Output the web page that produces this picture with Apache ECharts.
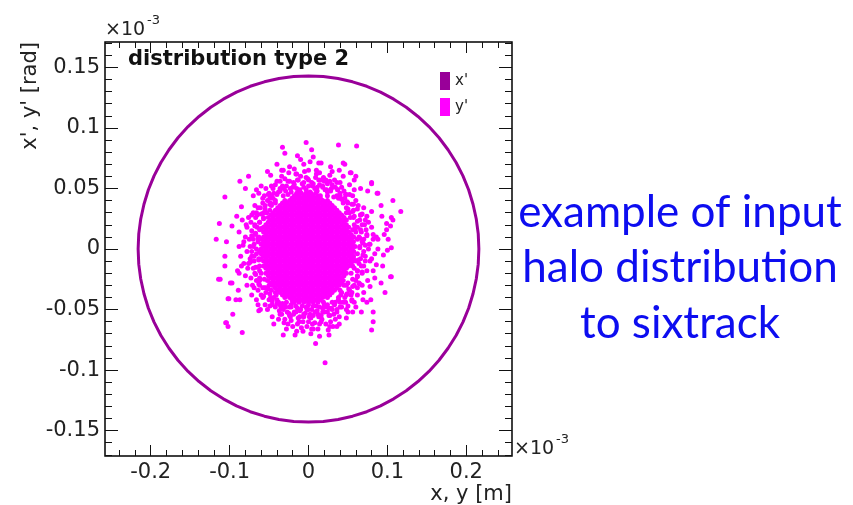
<!DOCTYPE html>
<html>
<head>
<meta charset="utf-8">
<script src="https://cdn.jsdelivr.net/npm/echarts@6/dist/echarts.min.js"></script>
<style>
    html, body { margin: 0; padding: 0; background: #fff; }
    #chart { width: 853px; height: 505px; }
</style>
</head>
<body>
<div id="chart"></div>
<script>
// all points in units of 1e-3 of the axis (axis is already x10^-3)
// x' : the halo ellipse
var xPrimeRing = [
    [216,0],[215.2,12.5],[212.7,24.8],[208.6,37],[203,48.9],[195.8,60.4],[187.1,71.5],[176.9,82],[165.5,91.9],
    [152.7,101.1],[138.8,109.5],[123.9,117.1],[108,123.8],[91.3,129.6],[73.9,134.4],[55.9,138.1],[37.5,140.8],[18.8,142.5],
    [0,143],[-18.8,142.5],[-37.5,140.8],[-55.9,138.1],[-73.9,134.4],[-91.3,129.6],[-108,123.8],[-123.9,117.1],[-138.8,109.5],
    [-152.7,101.1],[-165.5,91.9],[-176.9,82],[-187.1,71.5],[-195.8,60.4],[-203,48.9],[-208.6,37],[-212.7,24.8],[-215.2,12.5],
    [-216,0],[-215.2,-12.5],[-212.7,-24.8],[-208.6,-37],[-203,-48.9],[-195.8,-60.4],[-187.1,-71.5],[-176.9,-82],[-165.5,-91.9],
    [-152.7,-101.1],[-138.8,-109.5],[-123.9,-117.1],[-108,-123.8],[-91.3,-129.6],[-73.9,-134.4],[-55.9,-138.1],[-37.5,-140.8],[-18.8,-142.5],
    [0,-143],[18.8,-142.5],[37.5,-140.8],[55.9,-138.1],[73.9,-134.4],[91.3,-129.6],[108,-123.8],[123.9,-117.1],[138.8,-109.5],
    [152.7,-101.1],[165.5,-91.9],[176.9,-82],[187.1,-71.5],[195.8,-60.4],[203,-48.9],[208.6,-37],[212.7,-24.8],[215.2,-12.5],[216,0]
];

// y' : dense core of the beam (rows every 4 units)
var yPrimeCore = [
    [-18,44],[-12,44],[-6,44],[0,44],[6,44],[12,44],
    [-30,40],[-24,40],[-18,40],[-12,40],[-6,40],[0,40],[6,40],[12,40],[18,40],[24,40],
    [-36,36],[-30,36],[-24,36],[-18,36],[-12,36],[-6,36],[0,36],[6,36],[12,36],[18,36],[24,36],[30,36],
    [-42,32],[-36,32],[-30,32],[-24,32],[-18,32],[-12,32],[-6,32],[0,32],[6,32],[12,32],[18,32],[24,32],[30,32],[36,32],
    [-48,28],[-42,28],[-36,28],[-30,28],[-24,28],[-18,28],[-12,28],[-6,28],[0,28],[6,28],[12,28],[18,28],[24,28],[30,28],[36,28],[42,28],
    [-48,24],[-42,24],[-36,24],[-30,24],[-24,24],[-18,24],[-12,24],[-6,24],[0,24],[6,24],[12,24],[18,24],[24,24],[30,24],[36,24],[42,24],[48,24],
    [-54,20],[-48,20],[-42,20],[-36,20],[-30,20],[-24,20],[-18,20],[-12,20],[-6,20],[0,20],[6,20],[12,20],[18,20],[24,20],[30,20],[36,20],[42,20],[48,20],
    [-54,16],[-48,16],[-42,16],[-36,16],[-30,16],[-24,16],[-18,16],[-12,16],[-6,16],[0,16],[6,16],[12,16],[18,16],[24,16],[30,16],[36,16],[42,16],[48,16],
    [-54,12],[-48,12],[-42,12],[-36,12],[-30,12],[-24,12],[-18,12],[-12,12],[-6,12],[0,12],[6,12],[12,12],[18,12],[24,12],[30,12],[36,12],[42,12],[48,12],[54,12],
    [-60,8],[-54,8],[-48,8],[-42,8],[-36,8],[-30,8],[-24,8],[-18,8],[-12,8],[-6,8],[0,8],[6,8],[12,8],[18,8],[24,8],[30,8],[36,8],[42,8],[48,8],[54,8],
    [-60,4],[-54,4],[-48,4],[-42,4],[-36,4],[-30,4],[-24,4],[-18,4],[-12,4],[-6,4],[0,4],[6,4],[12,4],[18,4],[24,4],[30,4],[36,4],[42,4],[48,4],[54,4],
    [-60,0],[-54,0],[-48,0],[-42,0],[-36,0],[-30,0],[-24,0],[-18,0],[-12,0],[-6,0],[0,0],[6,0],[12,0],[18,0],[24,0],[30,0],[36,0],[42,0],[48,0],[54,0],
    [-60,-4],[-54,-4],[-48,-4],[-42,-4],[-36,-4],[-30,-4],[-24,-4],[-18,-4],[-12,-4],[-6,-4],[0,-4],[6,-4],[12,-4],[18,-4],[24,-4],[30,-4],[36,-4],[42,-4],[48,-4],[54,-4],
    [-60,-8],[-54,-8],[-48,-8],[-42,-8],[-36,-8],[-30,-8],[-24,-8],[-18,-8],[-12,-8],[-6,-8],[0,-8],[6,-8],[12,-8],[18,-8],[24,-8],[30,-8],[36,-8],[42,-8],[48,-8],[54,-8],
    [-54,-12],[-48,-12],[-42,-12],[-36,-12],[-30,-12],[-24,-12],[-18,-12],[-12,-12],[-6,-12],[0,-12],[6,-12],[12,-12],[18,-12],[24,-12],[30,-12],[36,-12],[42,-12],[48,-12],[54,-12],
    [-54,-16],[-48,-16],[-42,-16],[-36,-16],[-30,-16],[-24,-16],[-18,-16],[-12,-16],[-6,-16],[0,-16],[6,-16],[12,-16],[18,-16],[24,-16],[30,-16],[36,-16],[42,-16],[48,-16],
    [-54,-20],[-48,-20],[-42,-20],[-36,-20],[-30,-20],[-24,-20],[-18,-20],[-12,-20],[-6,-20],[0,-20],[6,-20],[12,-20],[18,-20],[24,-20],[30,-20],[36,-20],[42,-20],[48,-20],
    [-48,-24],[-42,-24],[-36,-24],[-30,-24],[-24,-24],[-18,-24],[-12,-24],[-6,-24],[0,-24],[6,-24],[12,-24],[18,-24],[24,-24],[30,-24],[36,-24],[42,-24],
    [-48,-28],[-42,-28],[-36,-28],[-30,-28],[-24,-28],[-18,-28],[-12,-28],[-6,-28],[0,-28],[6,-28],[12,-28],[18,-28],[24,-28],[30,-28],[36,-28],[42,-28],
    [-42,-32],[-36,-32],[-30,-32],[-24,-32],[-18,-32],[-12,-32],[-6,-32],[0,-32],[6,-32],[12,-32],[18,-32],[24,-32],[30,-32],[36,-32],
    [-36,-36],[-30,-36],[-24,-36],[-18,-36],[-12,-36],[-6,-36],[0,-36],[6,-36],[12,-36],[18,-36],[24,-36],[30,-36],
    [-30,-40],[-24,-40],[-18,-40],[-12,-40],[-6,-40],[0,-40],[6,-40],[12,-40],[18,-40],[24,-40],
    [-18,-44],[-12,-44],[-6,-44],[0,-44],[6,-44],[12,-44]
];

// y' : staggered rows between the core rows
var yPrimeCoreFill = [
    [-15,46],[-9,46],[-3,46],[3,46],[9,46],
    [-21,42],[-15,42],[-9,42],[-3,42],[3,42],[9,42],[15,42],
    [-33,38],[-27,38],[-21,38],[-15,38],[-9,38],[-3,38],[3,38],[9,38],[15,38],[21,38],[27,38],
    [-39,34],[-33,34],[-27,34],[-21,34],[-15,34],[-9,34],[-3,34],[3,34],[9,34],[15,34],[21,34],[27,34],[33,34],
    [-45,30],[-39,30],[-33,30],[-27,30],[-21,30],[-15,30],[-9,30],[-3,30],[3,30],[9,30],[15,30],[21,30],[27,30],[33,30],[39,30],
    [-51,26],[-45,26],[-39,26],[-33,26],[-27,26],[-21,26],[-15,26],[-9,26],[-3,26],[3,26],[9,26],[15,26],[21,26],[27,26],[33,26],[39,26],[45,26],
    [-51,22],[-45,22],[-39,22],[-33,22],[-27,22],[-21,22],[-15,22],[-9,22],[-3,22],[3,22],[9,22],[15,22],[21,22],[27,22],[33,22],[39,22],[45,22],
    [-57,18],[-51,18],[-45,18],[-39,18],[-33,18],[-27,18],[-21,18],[-15,18],[-9,18],[-3,18],[3,18],[9,18],[15,18],[21,18],[27,18],[33,18],[39,18],[45,18],[51,18],
    [-57,14],[-51,14],[-45,14],[-39,14],[-33,14],[-27,14],[-21,14],[-15,14],[-9,14],[-3,14],[3,14],[9,14],[15,14],[21,14],[27,14],[33,14],[39,14],[45,14],[51,14],
    [-57,10],[-51,10],[-45,10],[-39,10],[-33,10],[-27,10],[-21,10],[-15,10],[-9,10],[-3,10],[3,10],[9,10],[15,10],[21,10],[27,10],[33,10],[39,10],[45,10],[51,10],[57,10],
    [-57,6],[-51,6],[-45,6],[-39,6],[-33,6],[-27,6],[-21,6],[-15,6],[-9,6],[-3,6],[3,6],[9,6],[15,6],[21,6],[27,6],[33,6],[39,6],[45,6],[51,6],[57,6],
    [-57,2],[-51,2],[-45,2],[-39,2],[-33,2],[-27,2],[-21,2],[-15,2],[-9,2],[-3,2],[3,2],[9,2],[15,2],[21,2],[27,2],[33,2],[39,2],[45,2],[51,2],[57,2],
    [-57,-2],[-51,-2],[-45,-2],[-39,-2],[-33,-2],[-27,-2],[-21,-2],[-15,-2],[-9,-2],[-3,-2],[3,-2],[9,-2],[15,-2],[21,-2],[27,-2],[33,-2],[39,-2],[45,-2],[51,-2],[57,-2],
    [-57,-6],[-51,-6],[-45,-6],[-39,-6],[-33,-6],[-27,-6],[-21,-6],[-15,-6],[-9,-6],[-3,-6],[3,-6],[9,-6],[15,-6],[21,-6],[27,-6],[33,-6],[39,-6],[45,-6],[51,-6],[57,-6],
    [-57,-10],[-51,-10],[-45,-10],[-39,-10],[-33,-10],[-27,-10],[-21,-10],[-15,-10],[-9,-10],[-3,-10],[3,-10],[9,-10],[15,-10],[21,-10],[27,-10],[33,-10],[39,-10],[45,-10],[51,-10],[57,-10],
    [-57,-14],[-51,-14],[-45,-14],[-39,-14],[-33,-14],[-27,-14],[-21,-14],[-15,-14],[-9,-14],[-3,-14],[3,-14],[9,-14],[15,-14],[21,-14],[27,-14],[33,-14],[39,-14],[45,-14],[51,-14],
    [-51,-18],[-45,-18],[-39,-18],[-33,-18],[-27,-18],[-21,-18],[-15,-18],[-9,-18],[-3,-18],[3,-18],[9,-18],[15,-18],[21,-18],[27,-18],[33,-18],[39,-18],[45,-18],
    [-51,-22],[-45,-22],[-39,-22],[-33,-22],[-27,-22],[-21,-22],[-15,-22],[-9,-22],[-3,-22],[3,-22],[9,-22],[15,-22],[21,-22],[27,-22],[33,-22],[39,-22],[45,-22],
    [-45,-26],[-39,-26],[-33,-26],[-27,-26],[-21,-26],[-15,-26],[-9,-26],[-3,-26],[3,-26],[9,-26],[15,-26],[21,-26],[27,-26],[33,-26],[39,-26],
    [-45,-30],[-39,-30],[-33,-30],[-27,-30],[-21,-30],[-15,-30],[-9,-30],[-3,-30],[3,-30],[9,-30],[15,-30],[21,-30],[27,-30],[33,-30],[39,-30],
    [-39,-34],[-33,-34],[-27,-34],[-21,-34],[-15,-34],[-9,-34],[-3,-34],[3,-34],[9,-34],[15,-34],[21,-34],[27,-34],[33,-34],
    [-33,-38],[-27,-38],[-21,-38],[-15,-38],[-9,-38],[-3,-38],[3,-38],[9,-38],[15,-38],[21,-38],[27,-38],
    [-21,-42],[-15,-42],[-9,-42],[-3,-42],[3,-42],[9,-42],[15,-42]
];

// y' : ragged edge just outside the solid core
var yPrimeEdge = [
    [65,1],[72,3],[69,5],[65,9],[74,11],[67,14],[59,17],[68,20],[62,23],[57,26],[66,28],[56,31],
    [50,33],[57,37],[49,39],[42,41],[48,45],[40,44],[32,43],[37,49],[29,50],[23,49],[27,56],[18,52],
    [11,51],[13,57],[6,54],[0,52],[-1,58],[-6,55],[-11,49],[-13,57],[-18,53],[-23,50],[-26,56],[-29,48],
    [-32,44],[-36,50],[-40,45],[-42,40],[-47,44],[-49,37],[-49,32],[-55,36],[-57,30],[-57,26],[-65,28],[-62,22],
    [-60,17],[-68,19],[-67,13],[-64,9],[-72,11],[-69,4],[-66,0],[-72,-2],[-69,-6],[-63,-9],[-74,-11],[-67,-15],
    [-62,-18],[-68,-20],[-62,-24],[-56,-25],[-63,-29],[-56,-32],[-51,-33],[-57,-39],[-49,-37],[-41,-38],[-46,-43],[-40,-45],
    [-33,-45],[-37,-51],[-29,-48],[-22,-48],[-25,-53],[-18,-52],[-11,-51],[-13,-57],[-6,-54],[0,-50],[1,-56],[6,-55],
    [11,-51],[13,-56],[18,-52],[22,-48],[26,-55],[29,-49],[33,-45],[36,-50],[40,-44],[41,-38],[47,-44],[49,-37],
    [51,-33],[55,-36],[56,-31],[56,-25],[65,-29],[62,-23],[62,-18],[68,-19],[67,-14],[63,-9],[72,-10],[69,-5]
];

// y' : shell around the core
var yPrimeShell = [
    [-45,50],[-36,48],[-28,52],[-22,47],[-15,50],[-8,54],[-3,49],[5,52],[11,48],[18,51],[24,47],[30,53],[37,49],
    [-40,56],[-30,58],[-19,55],[-10,60],[0,57],[9,59],[20,56],[27,61],[-25,63],[-5,64],[14,63],[33,57],
    [-33,52],[42,51],[-50,46],[47,45],[2,47],[-14,45],[15,44],[24,44],[-26,45],
    [-52,40],[-47,36],[-55,33],[-60,29],[-58,38],[-64,34],[-51,45],[-67,26],[-62,22],[-70,30],[-73,22],[-56,44],[-45,42],[-42,38],
    [38,42],[44,38],[48,34],[52,30],[46,42],[55,37],[58,27],[62,33],[65,24],[52,45],[60,40],[68,29],[71,20],[40,46],
    [-65,18],[-68,12],[-64,6],[-70,2],[-66,-4],[-69,-10],[-64,-15],[-67,-21],[-72,15],[-75,8],[-78,-2],[-74,-8],
    [-77,-16],[-73,-24],[-80,10],[-83,3],[-82,-12],[-86,-6],[-79,20],[-88,14],[-90,-18],[-71,-30],[-84,24],[-62,-26],
    [58,20],[60,14],[62,8],[59,2],[62,-4],[60,-10],[58,-16],[62,-22],[66,16],[68,6],[70,-2],[66,-8],
    [70,-14],[68,-20],[74,12],[76,0],[78,-10],[75,-26],[80,18],[84,-4],[86,10],[72,24],[82,-18],[64,-28],
    [-50,-30],[-47,-34],[-54,-36],[-58,-32],[-44,-40],[-50,-42],[-38,-44],[-60,-38],[-64,-34],[-42,-48],[-55,-46],[-66,-42],[-35,-48],
    [40,-34],[45,-30],[48,-38],[52,-34],[38,-42],[44,-44],[55,-42],[58,-30],[50,-47],[33,-46],[62,-38],[30,-44],
    [-30,-46],[-24,-48],[-16,-47],[-10,-50],[-3,-48],[4,-50],[10,-47],[18,-49],[24,-46],[-27,-52],[-19,-54],[-11,-56],
    [-4,-53],[3,-57],[12,-54],[20,-52],[27,-55],[-22,-59],[-7,-60],[8,-61],[17,-58],[-14,-62],[30,-50],[-36,-54],
    [36,-52],[0,-46],[-20,-44],[19,-44],
    [-24,68],[-40,70],[28,68],[-10,74],[6,76],[-52,64],[60,60],[66,50],[-70,44],[-60,52],
    [-26,-62],[-38,-58],[34,-58],[42,-48],[-46,-56],[60,-48],[22,-62],[-2,-64],[12,-66],[-28,-66],[36,-64],
    [-44,-62],[70,-36],[-72,-38],[-78,-30],[74,-44],
    [-38,47],[-31,50],[-20,51],[-12,48],[-6,51],[8,50],[14,53],[21,49],[28,48],[34,51],[-42,53],[-24,56],
    [-14,57],[4,55],[16,57],[24,54],[40,55],[-3,59],[-34,60],[30,64],[10,62],[-18,66],[44,60],
    [-48,38],[-53,30],[-57,25],[-49,42],[-44,46],[-61,34],[-66,30],[-58,42],[-63,46],[-54,50],[-68,36],[-72,28],[-47,52],
    [36,44],[43,41],[48,30],[53,26],[57,32],[50,38],[45,48],[56,44],[63,36],[66,28],[58,49],[70,34],[74,27],[52,53],
    [-62,16],[-63,10],[-62,-2],[-63,-8],[-62,-14],[-60,-20],[-68,20],[-70,8],[-72,-6],[-70,-16],[-66,-26],[-74,2],
    [-76,-12],[-78,18],[-80,-22],[-82,6],[-85,-14],[-76,26],[-69,-32],[-88,2],
    [56,16],[57,10],[57,-2],[57,-8],[56,-14],[54,-20],[62,18],[64,10],[65,2],[64,-12],[62,-18],[60,-26],
    [70,8],[72,-6],[73,16],[74,-18],[78,4],[80,-8],[68,-30],[82,12],[76,22],[84,-24],[88,0],
    [-46,-30],[-52,-26],[-42,-36],[-48,-40],[-54,-32],[-40,-42],[-46,-46],[-58,-40],[-52,-50],[-62,-30],[-36,-46],[-64,-46],
    [44,-26],[48,-30],[42,-36],[46,-40],[50,-28],[38,-40],[54,-38],[40,-48],[58,-44],[62,-32],[34,-44],[56,-52],
    [-28,-44],[-22,-46],[-14,-49],[-8,-47],[-2,-50],[6,-47],[14,-48],[20,-46],[26,-49],[-32,-50],[-24,-55],[-16,-52],
    [-6,-56],[2,-54],[8,-52],[16,-55],[24,-52],[32,-54],[-12,-60],[0,-60],[14,-62],[-30,-58],[28,-60],[-20,-64],[6,-66]
];

// y' : sparse outliers
var yPrimeTail = [
    [-3,88],[38,86],[61,85],[-33,84],[-30,79],[4,82],[-14,77],[46,70],[2,72],[-6,70],[13,71],[-34,65],
    [0,65],[10,65],[39,65],[-48,61],[-15,62],[19,59],[22,57],[53,63],[-87,56],[-76,60],[-36,56],[36,55],
    [58,57],[80,54],[-66,49],[-80,50],[87,46],[107,40],[117,31],[-106,43],[-85,35],[-91,27],[-113,21],
    [-117,8],[-104,6],[-97,19],[-106,-6],[-106,-14],[-114,-25],[-97,-28],[-88,-20],[-102,-41],[-87,-42],
    [-104,-61],[-102,-64],[-84,-69],[-96,-54],[-61,-50],[-49,-47],[-34,-54],[-31,-61],[-23,-56],[-32,-71],
    [-15,-68],[-9,-65],[3,-70],[9,-78],[14,-72],[27,-64],[39,-56],[48,-50],[67,-52],[80,-67],[82,-60],
    [97,-36],[100,-1],[105,1],[105,-23],[94,-14],[99,16],[101,8],[95,-5],[107,24],[93,27],[82,8],[86,-13],
    [78,-31],[69,-42],[55,-43],[21,-94],[-17,-71],[-7,-68],[4,-66],[25,-67],[26,-71],[5,-62],[16,-60],
    [31,-64],[39,-62],[82,-52],[50,-52],[48,-57],[104,-23],[92,-28],[79,-42],[-112,-25],[-105,-61],
    [-101,-41],[-92,-42],[-99,-28],[-89,-34],[-63,-51],[16,71],[44,71],[-32,65],[-16,62],[54,63],[80,55],
    [88,46],[92,36],[105,26],[99,21],[104,19],[96,12],[88,8],[77,4],[80,31],[75,48]
];

var xMajor = [-0.2, -0.1, 0, 0.1, 0.2];
var xMinor = [-0.24,-0.22,-0.2,-0.18,-0.16,-0.14,-0.12,-0.1,-0.08,-0.06,-0.04,-0.02,0,
              0.02,0.04,0.06,0.08,0.1,0.12,0.14,0.16,0.18,0.2,0.22,0.24];
var yMajor = [-0.15, -0.1, -0.05, 0, 0.05, 0.1, 0.15];
var yMinor = [-0.17,-0.16,-0.15,-0.14,-0.13,-0.12,-0.11,-0.1,-0.09,-0.08,-0.07,-0.06,-0.05,-0.04,-0.03,-0.02,-0.01,0,
              0.01,0.02,0.03,0.04,0.05,0.06,0.07,0.08,0.09,0.1,0.11,0.12,0.13,0.14,0.15,0.16,0.17];

function toAxis(list) {
    return list.map(function (p) { return [p[0] / 1000, p[1] / 1000]; });
}

var labelFont = { fontFamily: 'DejaVu Sans', fontSize: 21, color: '#222' };

// one axis per tick set (major / minor, both sides), all stacked on the frame
function makeAxis(dim, pos, ticks, len, withLabels) {
    var lim = dim === 'x' ? 0.258 : 0.171;
    return {
        type: 'value', min: -lim, max: lim, position: pos,
        axisLine: { show: false, onZero: false },
        axisTick: { show: true, inside: true, length: len, customValues: ticks,
                    lineStyle: { color: '#111', width: 1 } },
        axisLabel: { show: withLabels, customValues: ticks, margin: dim === 'x' ? 6 : 5,
                     fontFamily: labelFont.fontFamily, fontSize: labelFont.fontSize, color: labelFont.color,
                     formatter: function (v) { return v === 0 ? '0' : String(v); } },
        splitLine: { show: false }
    };
}

var myChart = echarts.init(document.getElementById('chart'));
var option = {
    animation: false,
    backgroundColor: '#fff',
    grid: { left: 105, top: 42, width: 407, height: 414, show: true,
            borderColor: '#000', borderWidth: 1.5, backgroundColor: 'transparent' },
    xAxis: [
        makeAxis('x', 'bottom', xMajor, 11, true),
        makeAxis('x', 'bottom', xMinor, 6, false),
        makeAxis('x', 'top', xMajor, 11, false),
        makeAxis('x', 'top', xMinor, 6, false)
    ],
    yAxis: [
        makeAxis('y', 'left', yMajor, 13, true),
        makeAxis('y', 'left', yMinor, 7, false),
        makeAxis('y', 'right', yMajor, 13, false),
        makeAxis('y', 'right', yMinor, 7, false)
    ],
    legend: {
        orient: 'vertical', left: 440, top: 72, padding: 0,
        itemWidth: 10, itemHeight: 18, itemGap: 8, icon: 'rect',
        textStyle: { fontFamily: 'DejaVu Sans', fontSize: 15, color: '#222' },
        data: ["x'", "y'"]
    },
    series: [
        {
            name: "x'", type: 'line', xAxisIndex: 0, yAxisIndex: 0,
            data: toAxis(xPrimeRing), showSymbol: false, smooth: false,
            lineStyle: { color: '#990099', width: 3, join: 'round' },
            itemStyle: { color: '#990099' }
        },
        {
            name: "y'", type: 'scatter', xAxisIndex: 0, yAxisIndex: 0,
            data: toAxis(yPrimeCore.concat(yPrimeCoreFill, yPrimeEdge, yPrimeShell, yPrimeTail)),
            symbolSize: 5,
            itemStyle: { color: '#ff00ff', opacity: 1 }
        }
    ],
    graphic: [
        { type: 'text', x: 128, y: 49,
          style: { text: 'distribution type 2', font: 'bold 21px "DejaVu Sans"', fill: '#111',
                   align: 'left', verticalAlign: 'top' } },
        { type: 'text', x: 105, y: 30,
          style: { text: '\u00d710', font: '19px "DejaVu Sans"', fill: '#222', align: 'left', verticalAlign: 'middle' } },
        { type: 'text', x: 147, y: 21,
          style: { text: '-3', font: '13px "DejaVu Sans"', fill: '#222', align: 'left', verticalAlign: 'middle' } },
        { type: 'text', x: 514, y: 449,
          style: { text: '\u00d710', font: '19px "DejaVu Sans"', fill: '#222', align: 'left', verticalAlign: 'middle' } },
        { type: 'text', x: 556, y: 440,
          style: { text: '-3', font: '13px "DejaVu Sans"', fill: '#222', align: 'left', verticalAlign: 'middle' } },
        { type: 'text', x: 512, y: 495,
          style: { text: 'x, y [m]', font: '21px "DejaVu Sans"', fill: '#222', align: 'right', verticalAlign: 'middle' } },
        { type: 'text', x: 31, y: 42, rotation: Math.PI / 2,
          style: { text: "x', y' [rad]", font: '21px "DejaVu Sans"', fill: '#222', align: 'right', verticalAlign: 'middle' } },
        { type: 'text', x: 680, y: 213,
          style: { text: 'example of input', font: '44px Lato', fill: '#0d0df0', align: 'center', verticalAlign: 'middle' } },
        { type: 'text', x: 680, y: 268,
          style: { text: 'halo distribution', font: '44px Lato', fill: '#0d0df0', align: 'center', verticalAlign: 'middle' } },
        { type: 'text', x: 680, y: 324,
          style: { text: 'to sixtrack', font: '44px Lato', fill: '#0d0df0', align: 'center', verticalAlign: 'middle' } }
    ]
};
myChart.setOption(option);
</script>
</body>
</html>
